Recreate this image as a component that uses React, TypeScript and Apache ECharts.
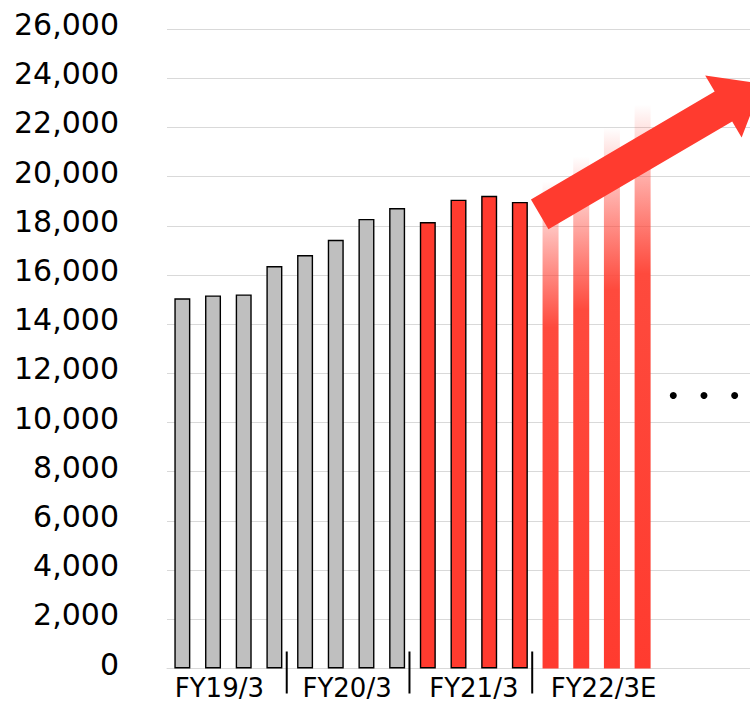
import React, { useEffect, useRef } from "react";
import * as echarts from "echarts";

// Quarterly slots: FY19/3 .. FY22/3E (four quarters each) plus three open slots after the forecast year.
const quarters = [
  "FY19/3 Q1", "FY19/3 Q2", "FY19/3 Q3", "FY19/3 Q4",
  "FY20/3 Q1", "FY20/3 Q2", "FY20/3 Q3", "FY20/3 Q4",
  "FY21/3 Q1", "FY21/3 Q2", "FY21/3 Q3", "FY21/3 Q4",
  "FY22/3E Q1", "FY22/3E Q2", "FY22/3E Q3", "FY22/3E Q4",
  "next 1", "next 2", "next 3",
];

const fiscalYears = ["FY19/3", "FY20/3", "FY21/3", "FY22/3E"];

// FY19/3 and FY20/3 quarters (grey)
const priorYears = [15050, 15170, 15210, 16360, 16810, 17430, 18280, 18720];
// FY21/3 quarters (red)
const currentYear = [18150, 19060, 19220, 18970];
// FY22/3E quarters (faded red, forecast)
const forecastYear = [19800, 20820, 22000, 22930];
// "· · ·" continuation marks after the forecast
const continuation = [11100, 11100, 11100];

const yTicks = { min: 0, max: 26000, interval: 2000 };

const RED = "#ff3b2f";
const GREY = "#bfbfbf";
const GRID_LINE = "#d9d9d9";
const FONT = "DejaVu Sans, Verdana, sans-serif";

// horizontal nudges of the fiscal-year captions from their group centres
const captionNudge = [-9, -4, 0, 7];

function padded(values: number[], start: number): (number | null)[] {
  return quarters.map((_, i) =>
    i >= start && i < start + values.length ? values[i - start] : null
  );
}

export default function App() {
  const ref = useRef<HTMLDivElement>(null);

  useEffect(() => {
    if (!ref.current) return;
    const chart = echarts.init(ref.current, undefined, { renderer: "svg" });

    const fade = new echarts.graphic.LinearGradient(0, 0, 0, 1, [
      { offset: 0, color: "rgba(255,59,47,0)" },
      { offset: 0.3, color: "rgba(254,74,61,1)" },
      { offset: 1, color: "rgba(255,59,47,1)" },
    ]);

    chart.setOption({
      animation: false,
      grid: { left: 167, right: 0, top: 29, bottom: 34.5, containLabel: false },
      xAxis: {
        type: "category",
        data: quarters,
        axisLabel: { show: false },
        axisTick: { show: false },
        axisLine: { lineStyle: { color: GRID_LINE, width: 1 } },
      },
      yAxis: {
        type: "value",
        min: yTicks.min,
        max: yTicks.max,
        interval: yTicks.interval,
        axisLine: { show: false },
        axisTick: { show: false },
        splitLine: { lineStyle: { color: GRID_LINE, width: 1 } },
        axisLabel: {
          color: "#000",
          fontSize: 30,
          fontFamily: FONT,
          margin: 48,
          verticalAlign: "bottom",
          lineHeight: 9,
          formatter: (v: number) => v.toLocaleString("en-US"),
        },
      },
      series: [
        {
          type: "bar",
          stack: "q",
          barWidth: 16,
          data: padded(priorYears, 0),
          itemStyle: { color: GREY, borderColor: "#000", borderWidth: 1.4 },
        },
        {
          type: "bar",
          stack: "q",
          barWidth: 16,
          data: padded(currentYear, 8),
          itemStyle: { color: RED, borderColor: "#000", borderWidth: 1.4 },
        },
        {
          type: "bar",
          stack: "q",
          barWidth: 16,
          data: padded(forecastYear, 12),
          itemStyle: { color: fade },
        },
        {
          type: "scatter",
          symbol: "circle",
          symbolSize: 7,
          data: padded(continuation, 16),
          itemStyle: { color: "#000", opacity: 1 },
        },
      ],
    });

    // Annotations placed from the axes: year separators, year captions and the growth arrow.
    const cx = (i: number) => chart.convertToPixel({ xAxisIndex: 0 }, i) as number;
    const y0 = chart.convertToPixel({ yAxisIndex: 0 }, 0) as number;

    const separators = [1, 2, 3].map((k) => {
      const x = (cx(4 * k - 1) + cx(4 * k)) / 2 - 3;
      return {
        type: "line",
        shape: { x1: x, y1: y0 - 17, x2: x, y2: y0 + 25 },
        style: { stroke: "#000", lineWidth: 2 },
        z: 50,
      };
    });

    const captions = fiscalYears.map((label, k) => ({
      type: "text",
      x: (cx(4 * k + 1) + cx(4 * k + 2)) / 2 + captionNudge[k],
      y: y0 + 19.5,
      style: {
        text: label,
        fontSize: 26,
        fontFamily: FONT,
        fill: "#000",
        align: "center",
        verticalAlign: "middle",
      },
      z: 50,
    }));

    // Arrow: tail centre, heading, shaft and head proportions
    const tail = [539.7, 214.3];
    const angle = (30.4 * Math.PI) / 180;
    const shaftLen = 213;
    const shaftHalf = 17.3;
    const headHalf = 36;
    const headLen = 45;
    const d = [Math.cos(angle), -Math.sin(angle)];
    const n = [-Math.sin(angle), -Math.cos(angle)];
    const at = (along: number, side: number) => [
      tail[0] + d[0] * along + n[0] * side,
      tail[1] + d[1] * along + n[1] * side,
    ];
    const arrow = {
      type: "polygon",
      shape: {
        points: [
          at(0, shaftHalf),
          at(shaftLen, shaftHalf),
          at(shaftLen, headHalf),
          at(shaftLen + headLen, 0),
          at(shaftLen, -headHalf),
          at(shaftLen, -shaftHalf),
          at(0, -shaftHalf),
        ],
      },
      style: { fill: RED },
      z: 100,
    };

    chart.setOption({ graphic: [...separators, ...captions, arrow] });

    return () => chart.dispose();
  }, []);

  return (
    <div
      ref={ref}
      style={{ position: "absolute", left: 0, top: 0, width: 750, height: 703, background: "#fff" }}
    />
  );
}
